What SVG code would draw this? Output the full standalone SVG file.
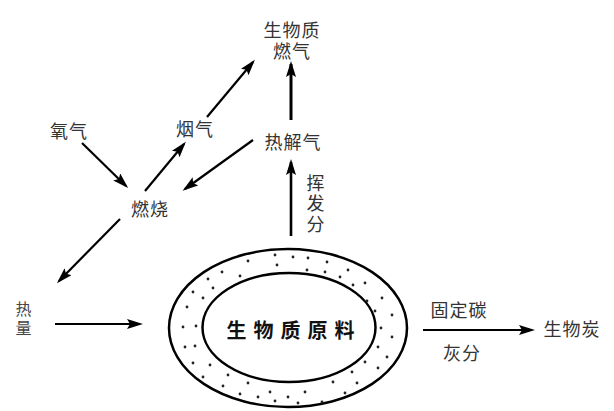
<svg xmlns="http://www.w3.org/2000/svg" width="614" height="411" viewBox="0 0 614 411">
<defs>
<marker id="ah" markerUnits="userSpaceOnUse" markerWidth="18" markerHeight="12" refX="13" refY="5" orient="auto">
<path d="M0,0 L16,5 L0,10 L3,5 z" fill="#000"/>
</marker>
<style>
.lbl{font-family:"Noto Sans CJK SC","Noto Sans",sans-serif;font-size:18px;fill:#333;text-anchor:middle;dominant-baseline:central;letter-spacing:1px}
.sm{font-size:16px;fill:#444}
.main{font-family:"Noto Sans CJK SC",sans-serif;font-size:20px;font-weight:700;fill:#111;text-anchor:middle;dominant-baseline:central;letter-spacing:7px}
.ar{stroke:#000;stroke-width:2.2;fill:none;marker-end:url(#ah)}
.ring{fill:none;stroke:#000;stroke-width:2.5}
.dots circle{fill:#222}
</style>
</defs>
<rect width="614" height="411" fill="#fff"/>

<g id="connectors">
<line class="ar" x1="82" y1="143" x2="126" y2="186"/>
<line class="ar" x1="145" y1="191" x2="184" y2="144"/>
<line class="ar" x1="207" y1="117" x2="253" y2="62"/>
<line class="ar" x1="253" y1="140" x2="185" y2="189"/>
<line class="ar" x1="291" y1="120" x2="291" y2="64" style="stroke-width:3"/>
<line class="ar" x1="291" y1="236" x2="291" y2="162" style="stroke-width:2.6"/>
<line class="ar" x1="120" y1="219" x2="59" y2="281"/>
<line class="ar" x1="55" y1="324" x2="140" y2="324"/>
<line class="ar" x1="423" y1="330" x2="532" y2="330"/>
</g>

<g id="biomass">
<ellipse class="ring" cx="288" cy="328" rx="119" ry="79"/>
<ellipse class="ring" cx="289" cy="327.5" rx="86.5" ry="54.5"/>
<g class="dots">
<circle cx="248" cy="261" r="1.4"/><circle cx="275" cy="255" r="1.4"/><circle cx="277" cy="265" r="1.4"/>
<circle cx="222" cy="272" r="1.4"/><circle cx="240" cy="276" r="1.4"/><circle cx="208" cy="279" r="1.4"/>
<circle cx="213" cy="288" r="1.4"/><circle cx="193" cy="292" r="1.4"/><circle cx="203" cy="298" r="1.4"/>
<circle cx="187" cy="307" r="1.4"/><circle cx="183" cy="327" r="1.4"/><circle cx="196" cy="326" r="1.4"/>
<circle cx="185" cy="347" r="1.4"/><circle cx="195" cy="346" r="1.4"/><circle cx="193" cy="363" r="1.4"/>
<circle cx="210" cy="365" r="1.4"/><circle cx="203" cy="377" r="1.4"/><circle cx="228" cy="375" r="1.4"/>
<circle cx="223" cy="386" r="1.4"/><circle cx="248" cy="383" r="1.4"/><circle cx="240" cy="394" r="1.4"/>
<circle cx="258" cy="397" r="1.4"/><circle cx="270" cy="392" r="1.4"/><circle cx="275" cy="401" r="1.4"/>
<circle cx="293" cy="257" r="1.4"/><circle cx="308" cy="258" r="1.4"/><circle cx="327" cy="262" r="1.4"/>
<circle cx="307" cy="270" r="1.4"/><circle cx="325" cy="272" r="1.4"/><circle cx="340" cy="277" r="1.4"/>
<circle cx="348" cy="270" r="1.4"/><circle cx="353" cy="285" r="1.4"/><circle cx="365" cy="283" r="1.4"/>
<circle cx="367" cy="301" r="1.4"/><circle cx="382" cy="298" r="1.4"/><circle cx="375" cy="311" r="1.4"/>
<circle cx="392" cy="315" r="1.4"/><circle cx="381" cy="328" r="1.4"/><circle cx="392" cy="337" r="1.4"/>
<circle cx="378" cy="347" r="1.4"/><circle cx="387" cy="357" r="1.4"/><circle cx="365" cy="362" r="1.4"/>
<circle cx="378" cy="368" r="1.4"/><circle cx="352" cy="372" r="1.4"/><circle cx="357" cy="383" r="1.4"/>
<circle cx="345" cy="393" r="1.4"/><circle cx="333" cy="382" r="1.4"/><circle cx="322" cy="402" r="1.4"/>
<circle cx="305" cy="392" r="1.4"/><circle cx="298" cy="403" r="1.4"/><circle cx="288" cy="397" r="1.4"/>
</g>
<text class="main" x="294" y="329">生物质原料</text>
</g>

<g id="n-gas"><text class="lbl" x="292" y="29">生物质<tspan x="292" dy="21">燃气</tspan></text></g>
<g id="n-oxygen"><text class="lbl" x="69" y="130">氧气</text></g>
<g id="n-flue"><text class="lbl" x="195" y="128">烟气</text></g>
<g id="n-pyro"><text class="lbl" x="293" y="141">热解气</text></g>
<g id="n-burn"><text class="lbl" x="150" y="208">燃烧</text></g>
<g id="n-volatile"><text class="lbl" x="316" y="182">挥<tspan x="316" dy="20">发</tspan><tspan x="316" dy="21">分</tspan></text></g>
<g id="n-heat"><text class="lbl sm" x="24" y="308">热<tspan x="24" dy="19">量</tspan></text></g>
<g id="n-fixed"><text class="lbl" x="459" y="309">固定碳</text></g>
<g id="n-ash"><text class="lbl" x="462" y="352">灰分</text></g>
<g id="n-char"><text class="lbl" x="572" y="328">生物炭</text></g>
</svg>
